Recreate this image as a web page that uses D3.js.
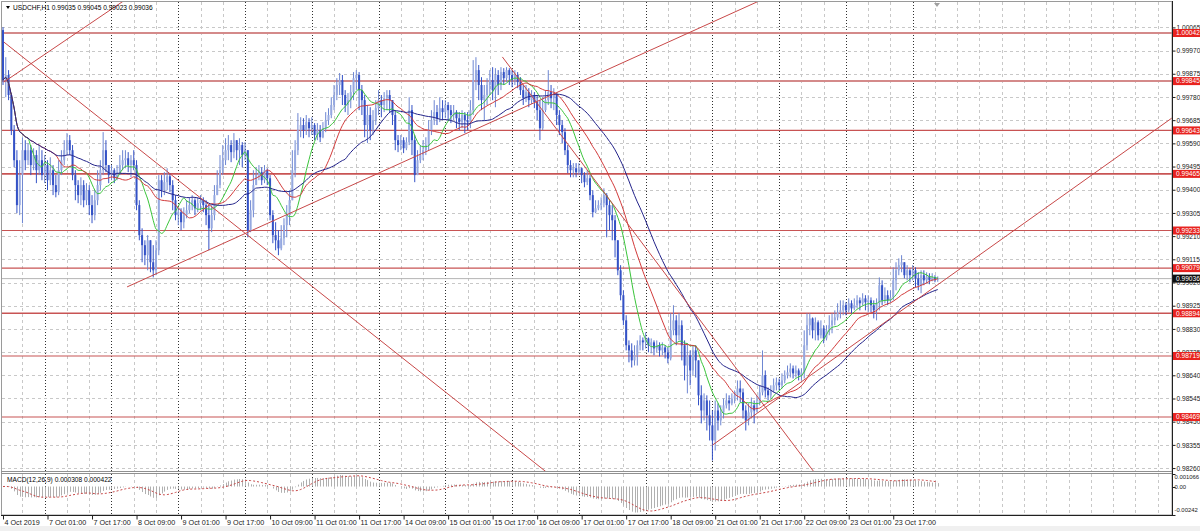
<!DOCTYPE html>
<html><head><meta charset="utf-8">
<script src="https://cdnjs.cloudflare.com/ajax/libs/d3/7.8.5/d3.min.js"></script>
<style>
body{margin:0;background:#fff;}
svg{display:block;}
text{font-family:"Liberation Sans",Arial,sans-serif;}
</style>
</head><body>
<svg id="chart" width="1200" height="531"></svg>
<script>
// ---------------- DATA ----------------
const symbolTitle = "USDCHF,H1";
const lastOHLC = [0.99035, 0.99045, 0.99023, 0.99036];
const macdTitle = "MACD(12,26,9) 0.000308 0.000422";
// hourly bars, 4 Oct 2019 09:00 .. 24 Oct 2019 09:00 ; prices in points: price = 0.98 + pts/100000
const firstOpenPts = 2054;
const closePts = [1849,1870,1788,1644,1521,1337,1460,1562,1521,1562,
1501,1542,1480,1521,1460,1501,1439,1480,1419,1390,
1480,1521,1562,1603,1562,1460,1419,1378,1419,1357,
1398,1337,1296,1357,1419,1480,1562,1501,1460,1480,
1447,1472,1501,1521,1529,1501,1521,1501,1337,1214,
1173,1132,1193,1103,1070,1152,1439,1398,1431,1455,
1419,1357,1296,1308,1267,1296,1316,1337,1357,1324,
1345,1357,1337,1296,1242,1296,1378,1419,1480,1521,
1562,1583,1554,1603,1562,1583,1542,1562,1234,1316,
1419,1460,1472,1439,1480,1447,1296,1214,1193,1160,
1201,1255,1296,1357,1480,1562,1644,1665,1644,1677,
1652,1665,1624,1644,1615,1652,1685,1706,1747,1788,
1829,1849,1788,1747,1767,1800,1857,1870,1808,1767,
1665,1706,1644,1685,1734,1767,1747,1775,1788,1767,
1706,1603,1583,1603,1570,1595,1726,1603,1460,1521,
1542,1562,1583,1644,1685,1718,1693,1734,1718,1747,
1726,1706,1718,1693,1677,1706,1685,1677,1726,1849,
1890,1829,1767,1788,1829,1849,1808,1870,1829,1882,
1857,1890,1870,1849,1870,1841,1808,1775,1800,1767,
1788,1759,1726,1652,1726,1767,1800,1775,1788,1706,
1665,1636,1562,1501,1480,1488,1472,1488,1460,1431,
1447,1378,1308,1324,1337,1345,1378,1337,1296,1275,
1193,1070,968,865,763,742,701,722,763,783,
775,791,763,775,750,763,742,754,734,709,
824,865,804,845,763,680,722,660,742,701,
558,496,537,476,435,373,496,455,488,517,
537,525,545,558,586,570,496,455,488,517,
496,529,570,640,578,558,578,599,611,599,
619,640,652,668,648,660,640,652,763,845,
873,824,857,804,832,791,824,845,865,877,
898,906,927,906,935,914,927,947,935,955,
939,947,927,906,935,1009,947,968,947,959,
1029,1070,1091,1103,1050,1070,1050,1070,1037,1009,
1050,1029,1045,1029,1041,1035,1036];
const highPts = [2066,1943,1890,1796,1665,1562,1521,1615,1603,1591,
1583,1570,1562,1583,1562,1542,1521,1533,1501,1460,
1521,1562,1603,1632,1624,1583,1480,1439,1451,1439,
1427,1419,1378,1398,1480,1521,1636,1603,1501,1501,
1488,1501,1542,1562,1562,1554,1542,1562,1521,1357,
1242,1193,1214,1193,1173,1193,1460,1460,1472,1488,
1468,1439,1378,1328,1324,1328,1357,1369,1378,1365,
1369,1378,1369,1357,1337,1337,1419,1480,1542,1583,
1611,1624,1603,1632,1603,1611,1595,1595,1562,1357,
1480,1492,1501,1492,1501,1488,1460,1316,1267,1234,
1255,1283,1337,1398,1562,1603,1714,1697,1693,1706,
1693,1697,1673,1673,1665,1677,1718,1734,1779,1829,
1857,1878,1870,1808,1796,1829,1882,1890,1882,1829,
1788,1747,1738,1726,1767,1808,1788,1800,1808,1808,
1767,1726,1624,1624,1615,1615,1779,1747,1624,1562,
1583,1603,1615,1685,1726,1767,1747,1779,1767,1767,
1759,1747,1747,1726,1718,1726,1718,1718,1767,1931,
1943,1911,1861,1829,1857,1890,1902,1898,1890,1902,
1898,1902,1898,1890,1890,1882,1861,1829,1829,1816,
1808,1800,1788,1767,1779,1808,1890,1829,1816,1796,
1726,1685,1652,1583,1521,1509,1509,1509,1492,1472,
1480,1460,1398,1357,1357,1369,1406,1386,1357,1337,
1296,1193,1091,988,886,783,771,763,783,804,
795,816,795,791,783,783,775,775,763,754,
894,927,886,894,865,783,771,742,763,763,
680,599,566,558,537,496,537,525,517,545,
566,558,566,578,619,619,586,517,525,549,
537,558,599,742,660,590,599,627,631,627,
648,660,680,689,680,680,668,668,824,894,
894,877,877,865,865,845,845,886,894,906,
935,947,947,939,955,947,955,968,959,976,
968,968,959,947,955,1041,1029,1000,988,988,
1082,1103,1119,1132,1103,1091,1078,1091,1082,1062,
1070,1070,1062,1058,1058,1050,1045];
const lowPts = [1829,1779,1767,1624,1492,1304,1296,1263,1480,1501,
1460,1480,1427,1460,1439,1427,1398,1419,1378,1369,
1378,1460,1501,1542,1542,1439,1357,1345,1337,1328,
1337,1296,1263,1275,1337,1398,1460,1472,1427,1439,
1427,1439,1460,1480,1488,1472,1451,1480,1316,1193,
1103,1091,1070,1062,1041,1050,1132,1369,1378,1398,
1390,1316,1275,1255,1234,1242,1283,1304,1316,1296,
1308,1316,1308,1255,1152,1226,1275,1378,1406,1460,
1501,1521,1513,1529,1521,1501,1492,1521,1205,1226,
1287,1419,1439,1419,1427,1419,1275,1181,1152,1132,
1152,1173,1205,1255,1357,1451,1542,1615,1611,1624,
1615,1624,1603,1603,1595,1611,1636,1665,1693,1726,
1767,1788,1747,1718,1706,1734,1767,1808,1726,1706,
1615,1591,1603,1624,1665,1706,1697,1718,1726,1714,
1665,1562,1554,1562,1550,1562,1583,1542,1431,1460,
1509,1521,1542,1562,1624,1665,1665,1677,1685,1693,
1685,1673,1685,1652,1644,1652,1632,1644,1652,1706,
1808,1767,1726,1685,1747,1788,1767,1738,1788,1808,
1829,1841,1829,1820,1829,1816,1788,1747,1759,1738,
1751,1734,1685,1603,1644,1718,1747,1734,1726,1665,
1624,1591,1542,1468,1451,1451,1451,1460,1427,1410,
1419,1357,1287,1304,1316,1316,1328,1205,1234,1193,
1123,1050,947,845,742,693,672,680,680,742,
742,750,734,730,722,734,717,722,709,689,
701,804,763,783,701,619,566,599,640,631,
517,443,455,414,373,291,332,414,435,463,
504,496,517,525,537,529,463,414,435,463,
443,488,517,558,549,537,545,570,578,578,
586,607,627,631,627,631,619,619,627,742,
804,791,783,783,791,771,783,804,812,845,
865,873,886,886,898,894,906,914,906,927,
906,898,898,873,865,906,927,935,927,939,
947,988,1050,1062,1037,1029,1021,1029,1000,988,
976,1009,1017,1013,1025,1021,1023];

const priceTicks = [1.00065,0.99970,0.99875,0.99780,0.99685,0.99590,0.99495,0.99400,0.99305,0.99210,
0.99115,0.99020,0.98925,0.98830,0.98735,0.98640,0.98545,0.98450,0.98355,0.98260];
const levelPrices = [1.00042,0.99845,0.99643,0.99465,0.99233,0.99079,0.98894,0.98719,0.98469];
const levelWidths = [2,2,1.4,1.6,1.1,1.4,1.4,1.1,1.1];
const timeLabelBars = [0,16,32,48,64,80,96,112,128,144,160,176,192,208,224,240,256,272,288,304,320];
const timeLabels = ["4 Oct 2019","7 Oct 01:00","7 Oct 17:00","8 Oct 09:00","9 Oct 01:00","9 Oct 17:00",
"10 Oct 09:00","11 Oct 01:00","11 Oct 17:00","14 Oct 09:00","15 Oct 01:00","15 Oct 17:00",
"16 Oct 09:00","17 Oct 01:00","17 Oct 17:00","18 Oct 09:00","21 Oct 01:00","21 Oct 17:00",
"22 Oct 09:00","23 Oct 01:00","23 Oct 17:00"];
const daySeparatorBars = [15,39,63,87,111,135,159,183,207,231,255,279,303,327];
// trend lines: [bar1, price1, bar2, price2]
const trendLines = [
  [44.6, 0.99002, 254.3, 1.00083],
  [0.3, 1.00005, 192.2, 0.98272],
  [0.3, 0.99841, 38.5, 1.00136],
  [255, 0.98354, 420.2, 0.99694],
  [179.5, 0.99944, 291, 0.98252]
];
const maPeriods = [10, 20, 36];
const maColors = ["#39c43a", "#d23a3a", "#23238a"];
const macdTicks = [0.001066, 0.00, -0.00242];
const macdTickText = ["0.001066", "0.00", "-0.00242"];

// ---------------- SETUP ----------------
const svg = d3.select("#chart");
const plotL = 2, plotR = 1172, mainT = 2, mainB = 471, macdT = 474, macdB = 515;
const N = closePts.length;
const toPrice = v => 0.98 + v / 100000;
const closes = closePts.map(toPrice), highs = highPts.map(toPrice), lows = lowPts.map(toPrice);
const opens = closes.map((c, i) => i === 0 ? toPrice(firstOpenPts) : closes[i - 1]);

const xs = d3.scaleLinear().domain([0, 420.2]).range([3, 1172]);
const ys = d3.scaleLinear().domain([0.98248, 1.00169]).range([mainB, mainT]);
const ym = d3.scaleLinear().domain([-0.00242, 0.001066]).range([macdB, macdT]);

svg.append("rect").attr("width", 1200).attr("height", 531).attr("fill", "#fff");
svg.append("rect").attr("x", 0).attr("y", 526).attr("width", 1200).attr("height", 5).attr("fill", "#f0f0f0");

const defs = svg.append("defs");
defs.append("clipPath").attr("id", "clipMain").append("rect")
  .attr("x", plotL).attr("y", mainT).attr("width", plotR - plotL).attr("height", mainB - mainT);
defs.append("clipPath").attr("id", "clipMacd").append("rect")
  .attr("x", plotL).attr("y", macdT).attr("width", plotR - plotL).attr("height", macdB - macdT);

// ---------------- GRID ----------------
const grid = svg.append("g");
const gridBars = d3.range(7, 421, 8).filter(b => !daySeparatorBars.includes(b));
[[mainT, mainB], [macdT, macdB]].forEach(([t, b]) => {
  grid.selectAll(null).data(gridBars).enter().append("line")
    .attr("x1", d => Math.round(xs(d)) + 0.5).attr("x2", d => Math.round(xs(d)) + 0.5)
    .attr("y1", t).attr("y2", b)
    .attr("stroke", "#c8c8c8").attr("stroke-width", 1).attr("stroke-dasharray", "3,3");
  grid.selectAll(null).data(daySeparatorBars).enter().append("line")
    .attr("x1", d => Math.round(xs(d)) + 0.5).attr("x2", d => Math.round(xs(d)) + 0.5)
    .attr("y1", t).attr("y2", b)
    .attr("stroke", "#303030").attr("stroke-width", 1).attr("stroke-dasharray", "1,2");
});
grid.selectAll(null).data(priceTicks).enter().append("line")
  .attr("x1", plotL).attr("x2", plotR)
  .attr("y1", d => Math.round(ys(d)) + 0.5).attr("y2", d => Math.round(ys(d)) + 0.5)
  .attr("stroke", "#c8c8c8").attr("stroke-width", 1).attr("stroke-dasharray", "3,3");

// ---------------- MAIN PANEL ----------------
const main = svg.append("g").attr("clip-path", "url(#clipMain)");

// horizontal levels
main.selectAll(null).data(levelPrices).enter().append("line")
  .attr("x1", plotL).attr("x2", plotR)
  .attr("y1", d => ys(d)).attr("y2", d => ys(d))
  .attr("stroke", (d, i) => i < 2 ? "#d48a8a" : "#c85454")
  .attr("stroke-width", (d, i) => levelWidths[i]);

// bid line
main.append("line").attr("x1", plotL).attr("x2", plotR)
  .attr("y1", ys(lastOHLC[3])).attr("y2", ys(lastOHLC[3]))
  .attr("stroke", "#b4b4b4").attr("stroke-width", 1);

// candles
const idx = d3.range(N);
const cg = main.append("g");
idx.forEach(i => {
  const o = opens[i], c = closes[i];
  const h = Math.max(highs[i], o, c), l = Math.min(lows[i], o, c);
  const bull = c >= o;
  const x = xs(i);
  cg.append("line").attr("x1", x).attr("x2", x).attr("y1", ys(h)).attr("y2", ys(l))
    .attr("stroke", bull ? "#6d86d2" : "#3452c6").attr("stroke-width", 1);
  const y1 = ys(Math.max(o, c)), y2 = ys(Math.min(o, c));
  cg.append("rect").attr("x", x - 1).attr("width", 2)
    .attr("y", y1).attr("height", Math.max(1, y2 - y1))
    .attr("fill", bull ? "#96a9e0" : "#3452c6");
});

// moving averages
maPeriods.forEach((p, k) => {
  const vals = idx.map(i => {
    const s = Math.max(0, i - p + 1);
    return d3.mean(closes.slice(s, i + 1));
  });
  main.append("path").datum(vals)
    .attr("d", d3.line().x((d, i) => xs(i)).y(d => ys(d)).curve(d3.curveMonotoneX))
    .attr("fill", "none").attr("stroke", maColors[k]).attr("stroke-width", 1);
});

// trend lines (rays to the right)
trendLines.forEach(([b1, p1, b2, p2]) => {
  const slope = (p2 - p1) / (b2 - b1);
  const bEnd = 420.2;
  main.append("line")
    .attr("x1", xs(b1)).attr("y1", ys(p1))
    .attr("x2", xs(bEnd)).attr("y2", ys(p1 + slope * (bEnd - b1)))
    .attr("stroke", "#c84848").attr("stroke-width", 1);
});

// ---------------- MACD PANEL ----------------
const ema = (arr, n) => { const a = 2 / (n + 1); const out = []; arr.forEach((v, i) => out.push(i === 0 ? v : out[i - 1] + a * (v - out[i - 1]))); return out; };
const e12 = ema(closes, 12), e26 = ema(closes, 26);
const macd = closes.map((c, i) => e12[i] - e26[i]);
const signal = macd.map((m, i) => d3.mean(macd.slice(Math.max(0, i - 8), i + 1)));
const mg = svg.append("g").attr("clip-path", "url(#clipMacd)");
mg.selectAll(null).data(macd).enter().append("line")
  .attr("x1", (d, i) => Math.round(xs(i)) + 0.5).attr("x2", (d, i) => Math.round(xs(i)) + 0.5)
  .attr("y1", ym(0)).attr("y2", d => ym(d))
  .attr("stroke", "#b0b0b0").attr("stroke-width", 1);
mg.append("path").datum(signal)
  .attr("d", d3.line().x((d, i) => xs(i)).y(d => ym(d)))
  .attr("fill", "none").attr("stroke", "#c84848").attr("stroke-width", 1).attr("stroke-dasharray", "2,2");

// ---------------- FRAMES ----------------
svg.append("rect").attr("x", 1.5).attr("y", 1.5).attr("width", plotR - 1.5).attr("height", macdB - 1.5)
  .attr("fill", "none").attr("stroke", "#9a9a9a");
svg.append("line").attr("x1", 1).attr("x2", plotR).attr("y1", 471.5).attr("y2", 471.5).attr("stroke", "#909090");
svg.append("line").attr("x1", 1).attr("x2", plotR).attr("y1", 473.5).attr("y2", 473.5).attr("stroke", "#909090");
svg.append("line").attr("x1", plotR + 0.5).attr("x2", plotR + 0.5).attr("y1", 1).attr("y2", macdB + 1).attr("stroke", "#202020");
svg.append("line").attr("x1", 1).attr("x2", plotR + 1).attr("y1", macdB + 0.5).attr("y2", macdB + 0.5).attr("stroke", "#202020");

// ---------------- AXES ----------------
const yAxis = d3.axisRight(ys).tickValues(priceTicks).tickSize(3).tickFormat(d3.format(".5f"));
const ya = svg.append("g").attr("transform", `translate(${plotR + 0.5},0)`).call(yAxis);
ya.select(".domain").remove();
ya.selectAll("line").attr("stroke", "#202020");
ya.selectAll("text").attr("x", 4).attr("font-size", 6.6).attr("fill", "#202020").attr("font-family", "Liberation Sans, Arial, sans-serif");

// MACD scale labels (ticks at values, text kept inside the panel)
const mLab = svg.append("g");
macdTicks.forEach((v, i) => {
  const y = ym(v);
  mLab.append("line").attr("x1", plotR + 0.5).attr("x2", plotR + 3.5).attr("y1", Math.round(y) + 0.5).attr("y2", Math.round(y) + 0.5).attr("stroke", "#202020");
  const ty = Math.min(Math.max(y, macdT + 3), macdB - 5);
  mLab.append("text").attr("x", plotR + 2.5).attr("y", ty).attr("dy", "0.35em")
    .attr("font-size", 5.9).attr("fill", "#202020").text(macdTickText[i]);
});

const xAxis = d3.axisBottom(xs).tickValues(timeLabelBars).tickSize(4).tickFormat((d, i) => timeLabels[i]);
const xa = svg.append("g").attr("transform", `translate(0,${macdB + 0.5})`).call(xAxis);
xa.select(".domain").remove();
xa.selectAll("line").attr("stroke", "#202020");
xa.selectAll("text").attr("text-anchor", "start").attr("x", 1).attr("y", 4).attr("dy", "0.71em")
  .attr("font-size", 7.2).attr("fill", "#202020").attr("font-family", "Liberation Sans, Arial, sans-serif");

// level price labels
const lab = svg.append("g");
levelPrices.forEach(p => {
  const y = ys(p);
  lab.append("rect").attr("x", plotR + 1).attr("y", y - 4).attr("width", 27).attr("height", 8).attr("fill", "#e8231f");
  lab.append("text").attr("x", plotR + 4).attr("y", y).attr("dy", "0.35em").attr("font-size", 6.6)
    .attr("fill", "#fff").text(d3.format(".5f")(p));
});
{
  const p = lastOHLC[3], y = ys(p);
  lab.append("rect").attr("x", plotR + 1).attr("y", y - 4).attr("width", 27).attr("height", 8).attr("fill", "#101010");
  lab.append("text").attr("x", plotR + 4).attr("y", y).attr("dy", "0.35em").attr("font-size", 6.6)
    .attr("fill", "#fff").text(d3.format(".5f")(p));
}

// ---------------- TITLES ----------------
svg.append("path").attr("d", "M6,6 L10,6 L8,9 Z").attr("fill", "#000");
svg.append("text").attr("x", 13).attr("y", 8).attr("dy", "0.35em").attr("font-size", 6.6).attr("fill", "#000")
  .text(symbolTitle + "  " + lastOHLC.map(d3.format(".5f")).join(" "));
svg.append("text").attr("x", 7).attr("y", 480).attr("dy", "0.35em").attr("font-size", 6.6).attr("fill", "#000")
  .text(macdTitle);
svg.append("path").attr("d", "M934,3 L940,3 L937,7 Z").attr("fill", "#a0a0a0");
</script>
</body></html>
